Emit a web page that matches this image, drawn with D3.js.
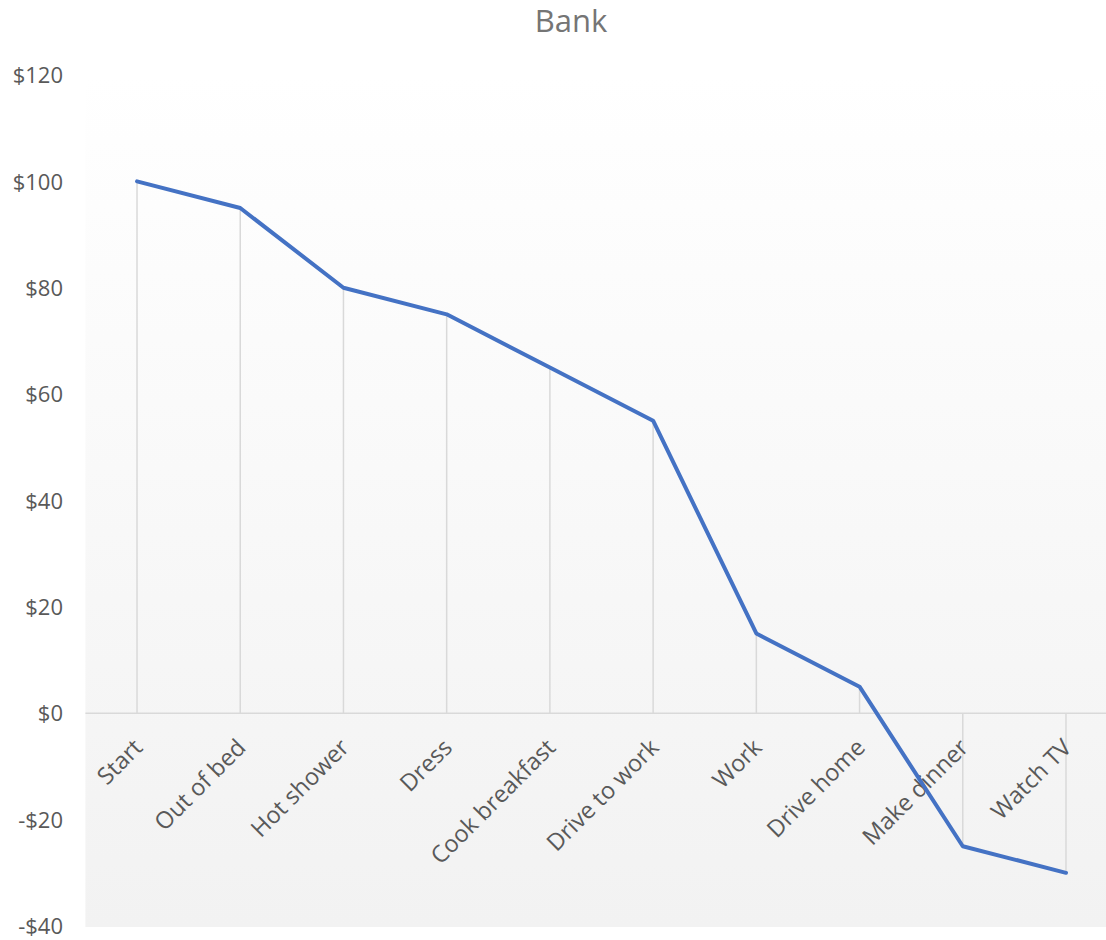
<!DOCTYPE html>
<html>
<head>
<meta charset="utf-8">
<script src="https://cdn.jsdelivr.net/npm/d3@7"></script>
<style>
  html, body { margin: 0; padding: 0; background: #ffffff; }
  svg { display: block; }
</style>
</head>
<body>
<div id="chart"></div>
<script>
const categories = ["Start", "Out of bed", "Hot shower", "Dress", "Cook breakfast", "Drive to work", "Work", "Drive home", "Make dinner", "Watch TV"];
const bankValues = [100, 95, 80, 75, 65, 55, 15, 5, -25, -30];
const yTicks = [120, 100, 80, 60, 40, 20, 0, -20, -40];
const chartTitle = "Bank";

const W = 1106, H = 940;
const plot = { left: 85.4, right: 1117.6, top: 75, bottom: 926 };

const svg = d3.select("#chart").append("svg")
  .attr("width", W).attr("height", H);

const defs = svg.append("defs");
const grad = defs.append("linearGradient")
  .attr("id", "bg").attr("x1", 0).attr("y1", 0).attr("x2", 0).attr("y2", 1);
grad.append("stop").attr("offset", "0%").attr("stop-color", "#ffffff");
grad.append("stop").attr("offset", "100%").attr("stop-color", "#f2f2f2");

const x = d3.scalePoint().domain(categories).range([plot.left, plot.right]).padding(0.5);
const y = d3.scaleLinear().domain([-40, 120]).range([plot.bottom, plot.top]);

// plot background
svg.append("rect")
  .attr("x", plot.left).attr("y", plot.top)
  .attr("width", W - plot.left).attr("height", plot.bottom + 1 - plot.top)
  .attr("fill", "url(#bg)");

// title
svg.append("text")
  .attr("x", 571).attr("y", 32)
  .attr("text-anchor", "middle")
  .attr("font-family", "'Open Sans', sans-serif")
  .attr("font-size", 31)
  .attr("fill", "#757575")
  .text(chartTitle);

// y axis labels (no line)
const fmt = v => (v < 0 ? "-$" : "$") + Math.abs(v);
const yAxis = d3.axisLeft(y).tickValues(yTicks).tickFormat(fmt).tickSize(0).tickPadding(0);
const yG = svg.append("g").attr("transform", "translate(63,0)").call(yAxis);
yG.select(".domain").remove();
yG.selectAll("text")
  .attr("font-family", "'Open Sans', sans-serif")
  .attr("font-size", 22)
  .attr("fill", "#595959")
  .attr("dy", "0.35em");

// drop lines
const data = categories.map((c, i) => ({ c, v: bankValues[i] }));
svg.append("g").selectAll("line").data(data).join("line")
  .attr("x1", d => x(d.c)).attr("x2", d => x(d.c))
  .attr("y1", y(0)).attr("y2", d => y(d.v))
  .attr("stroke", "#d9d9d9").attr("stroke-width", 1.5);

// x axis line
const xAxis = d3.axisBottom(x).tickSize(0).tickFormat("");
const xG = svg.append("g").attr("transform", `translate(0,${y(0)})`).call(xAxis);
xG.select(".domain")
  .attr("d", `M${plot.left},0H${W}`)
  .attr("stroke", "#d9d9d9").attr("stroke-width", 1.5);

// category labels
svg.append("g").selectAll("text").data(categories).join("text")
  .attr("transform", d => `translate(${x(d) + 7},${749}) rotate(-45)`)
  .attr("text-anchor", "end")
  .attr("font-family", "'Open Sans', sans-serif")
  .attr("font-size", 23.5)
  .attr("fill", "#595959")
  .text(d => d);

// line
const line = d3.line().x(d => x(d.c)).y(d => y(d.v));
svg.append("path").datum(data)
  .attr("d", line)
  .attr("fill", "none")
  .attr("stroke", "#4472C4")
  .attr("stroke-width", 4)
  .attr("stroke-linejoin", "round")
  .attr("stroke-linecap", "round");
</script>
</body>
</html>
